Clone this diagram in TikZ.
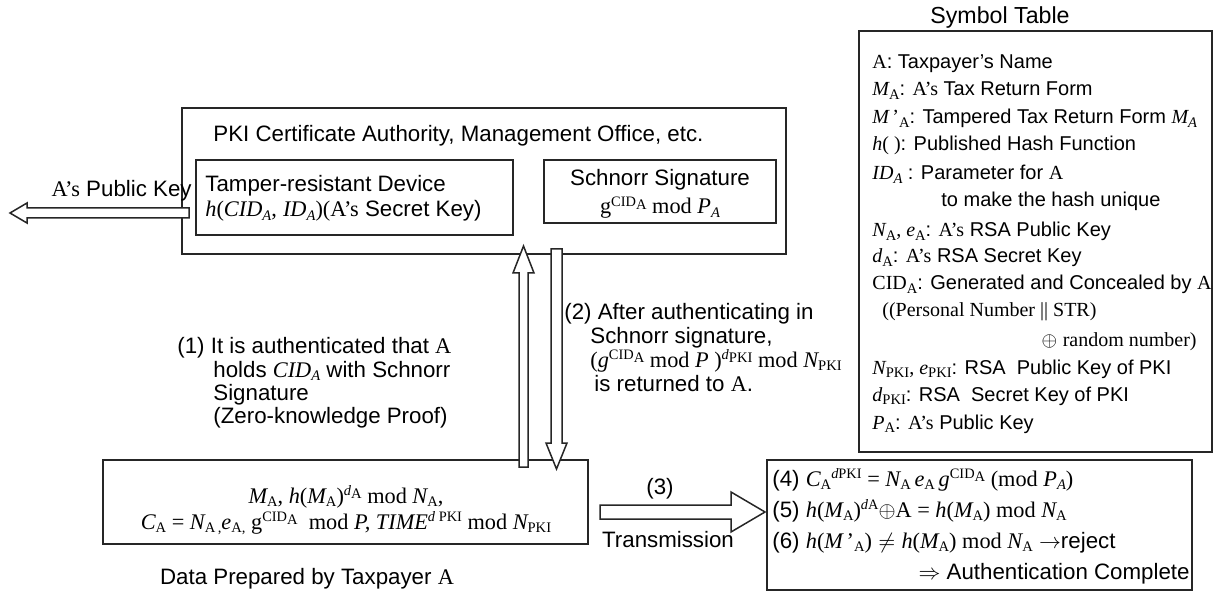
\documentclass[tikz,border=0pt]{standalone}
\usepackage{fontspec}
\setmainfont{Liberation Sans}
\newfontfamily\tnr{Liberation Serif}
\usetikzlibrary{positioning, calc}

% serif italic / upright pieces, sub- and superscripts
\newcommand{\V}[1]{{\tnr\itshape #1}}
\newcommand{\R}[1]{{\tnr\upshape #1}}
\newcommand{\lo}[1]{\raisebox{-1.7pt}{\tnr\upshape\fontsize{7.3}{8}\selectfont #1}}
\newcommand{\hi}[1]{\raisebox{3.8pt}{\tnr\upshape\fontsize{7.2}{8}\selectfont #1}}

% block arrow: tail, tip, shaft half width, head half width, head length
\newcommand{\blockarrow}[5]{%
  \coordinate (ba-h) at ($(#2)!#5!(#1)$);
  \draw[barrow] ($(#1)!#3!90:(#2)$) -- ($(ba-h)!#3!-90:(#1)$) -- ($(ba-h)!#4!-90:(#1)$)
    -- (#2) -- ($(ba-h)!#4!90:(#1)$) -- ($(ba-h)!#3!90:(#1)$) -- ($(#1)!#3!-90:(#2)$) -- cycle;}

\tikzset{
  box/.style={draw=black!85, line width=0.75pt, inner sep=0pt},
  txt/.style={inner sep=0pt, anchor=base west},
  ctxt/.style={inner sep=0pt, anchor=base},
  symtxt/.style={txt, font=\fontsize{10}{12}\selectfont},
  barrow/.style={draw=black!85, line width=0.75pt, fill=white, line join=miter},
}

\begin{document}
\begin{tikzpicture}[x=0.5pt, y=-0.5pt, font=\fontsize{11.15}{12.6}\selectfont]
    \useasboundingbox (0,0) rectangle (1220,593);

    % PKI side
    \node[box, minimum width=302pt, minimum height=73pt] (pki) at (484,181) {};
    \node[txt] (pkititle) at (213,142) {PKI Certificate Authority, Management Office, etc.};
    \node[box, minimum width=158.5pt, minimum height=37.5pt] (tamper) at (354.5,197.5) {};
    \node[txt] (tamper1) at (205,192) {Tamper-resistant Device};
    \node[txt] (tamper2) at (205,217) {\V{h}\R{(}\V{CID}\lo{\itshape A}\R{,} \V{ID}\lo{\itshape A}\R{)(A’s} Secret Key)};
    \node[box, minimum width=116pt, minimum height=31.5pt] (schnorr) at (660,191.5) {};
    \node[ctxt] (schnorr1) at (660,186) {Schnorr Signature};
    \node[ctxt] (schnorr2) at (660,214) {\R{g}\hi{CID\lo{A}}\R{ mod }\V{P}\lo{\itshape A}};

    % public key out of the PKI box
    \coordinate (pk-tail) at (189,213);
    \coordinate (pk-tip) at (10,213);
    \blockarrow{pk-tail}{pk-tip}{2.5pt}{5pt}{8.5pt}
    \node[txt, anchor=base east] (pklabel) at (192,197) {\R{A’s} Public Key};

    % taxpayer data
    \node[box, minimum width=242.5pt, minimum height=42pt] (data) at (345.5,502) {};
    \node[ctxt] (data1) at (346,503) {\V{M}\lo{A}\R{, }\V{h}\R{(}\V{M}\lo{A}\R{)}\hi{\itshape d\lo{\upshape A}}\R{ mod }\V{N}\lo{A}\R{,}};
    \node[ctxt] (data2) at (346,529) {\V{C}\lo{A}\R{ = }\V{N}\lo{A\,,}\V{e}\lo{A,}\R{ g}\hi{CID\lo{A}}\R{ \ mod }\V{P, TIME}\hi{\itshape d\upshape\ PKI}\R{ mod }\V{N}\lo{PKI}};
    \node[ctxt] (datacap) at (307,584) {Data Prepared by Taxpayer \R{A}};

    % exchange with PKI
    \coordinate (up-tail) at (523.5,467);
    \coordinate (up-tip) at (523.5,246);
    \coordinate (dn-tail) at (556.5,249);
    \coordinate (dn-tip) at (556.5,469);
    \blockarrow{up-tail}{up-tip}{2.25pt}{5.25pt}{13.5pt}
    \blockarrow{dn-tail}{dn-tip}{2.75pt}{5.25pt}{13pt}

    \node[txt] (step1a) at (177,353) {(1) It is authenticated that \R{A}};
    \node[txt] (step1b) at (213,377) {holds \V{CID}\lo{\itshape A} with Schnorr};
    \node[txt] (step1c) at (213,400) {Signature};
    \node[txt] (step1d) at (213,423) {(Zero-knowledge Proof)};

    \node[txt] (step2a) at (564,319) {(2) After authenticating in};
    \node[txt] (step2b) at (590,343) {Schnorr signature,};
    \node[txt] (step2c) at (590,367) {\R{(}\V{g}\hi{CID\lo{A}}\R{ mod }\V{P}\R{ )}\hi{\itshape d\lo{\upshape PKI}}\R{ mod }\V{N}\lo{PKI}};
    \node[txt] (step2d) at (594,391) {is returned to \R{A}.};

    % transmission and check
    \coordinate (tr-tail) at (600,512);
    \coordinate (tr-tip) at (765,512);
    \blockarrow{tr-tail}{tr-tip}{3.5pt}{10pt}{17pt}
    \node[ctxt] (step3) at (660,494) {(3)};
    \node[ctxt] (trlabel) at (668,547) {Transmission};

    \node[box, minimum width=212.5pt, minimum height=65pt] (check) at (979.5,525) {};
    \node[txt] (check4) at (772,486) {(4) \V{C}\lo{A}\hi{\itshape d\upshape PKI}\R{ = }\V{N}\lo{A}\,\V{e}\lo{A}\,\V{g}\hi{CID\lo{A}}\R{ (mod }\V{P}\lo{\itshape A}\R{)}};
    \node[txt] (check5) at (772,517) {(5) \V{h}\R{(}\V{M}\lo{A}\R{)}\hi{\itshape d\upshape A}$\oplus$\R{A = }\V{h}\R{(}\V{M}\lo{A}\R{) mod }\V{N}\lo{A}};
    \node[txt] (check6) at (772,548) {(6) \V{h}\R{(}\V{M}\R{\,’}\lo{A}\R{)} $\neq$ \V{h}\R{(}\V{M}\lo{A}\R{) mod }\V{N}\lo{A} $\rightarrow$reject};
    \node[txt, anchor=base east] (checkok) at (1190,579) {$\Rightarrow$ Authentication Complete};

    % symbol table
    \node[ctxt, font=\fontsize{11.6}{13}\selectfont] (symtitle) at (1000,24) {Symbol Table};
    \node[box, minimum width=176.5pt, minimum height=210.5pt] (symtab) at (1035.5,241.5) {};
    \node[symtxt] (sym1) at (872,69) {\R{A}: Taxpayer’s Name};
    \node[symtxt] (sym2) at (872,96) {\V{M}\lo{A}: \R{A’s} Tax Return Form};
    \node[symtxt] (sym3) at (872,124) {\V{M}\R{\,’}\lo{A}: Tampered Tax Return Form \V{M}\lo{\itshape A}};
    \node[symtxt] (sym4) at (872,151) {\V{h}\R{( )}: Published Hash Function};
    \node[symtxt] (sym5) at (872,180) {\V{ID}\lo{\itshape A} : Parameter for \R{A}};
    \node[symtxt] (sym6) at (941,207) {to make the hash unique};
    \node[symtxt] (sym7) at (872,237) {\V{N}\lo{A}\R{, }\V{e}\lo{A}: \R{A’s} RSA Public Key};
    \node[symtxt] (sym8) at (872,263) {\V{d}\lo{A}: \R{A’s} RSA Secret Key};
    \node[symtxt] (sym9) at (872,290) {\R{CID}\lo{A}: Generated and Concealed by \R{A}};
    \node[symtxt] (sym10) at (882,316) {\R{((Personal Number || STR)}};
    \node[symtxt, anchor=base east] (sym11) at (1197,346) {$\oplus$ \R{random number)}};
    \node[symtxt] (sym12) at (872,374) {\V{N}\lo{PKI}\R{, }\V{e}\lo{PKI}: RSA\ \ Public Key of PKI};
    \node[symtxt] (sym13) at (872,401) {\V{d}\lo{PKI}: RSA\ \ Secret Key of PKI};
    \node[symtxt] (sym14) at (872,429) {\V{P}\lo{A}: \R{A’s} Public Key};
\end{tikzpicture}
\end{document}
